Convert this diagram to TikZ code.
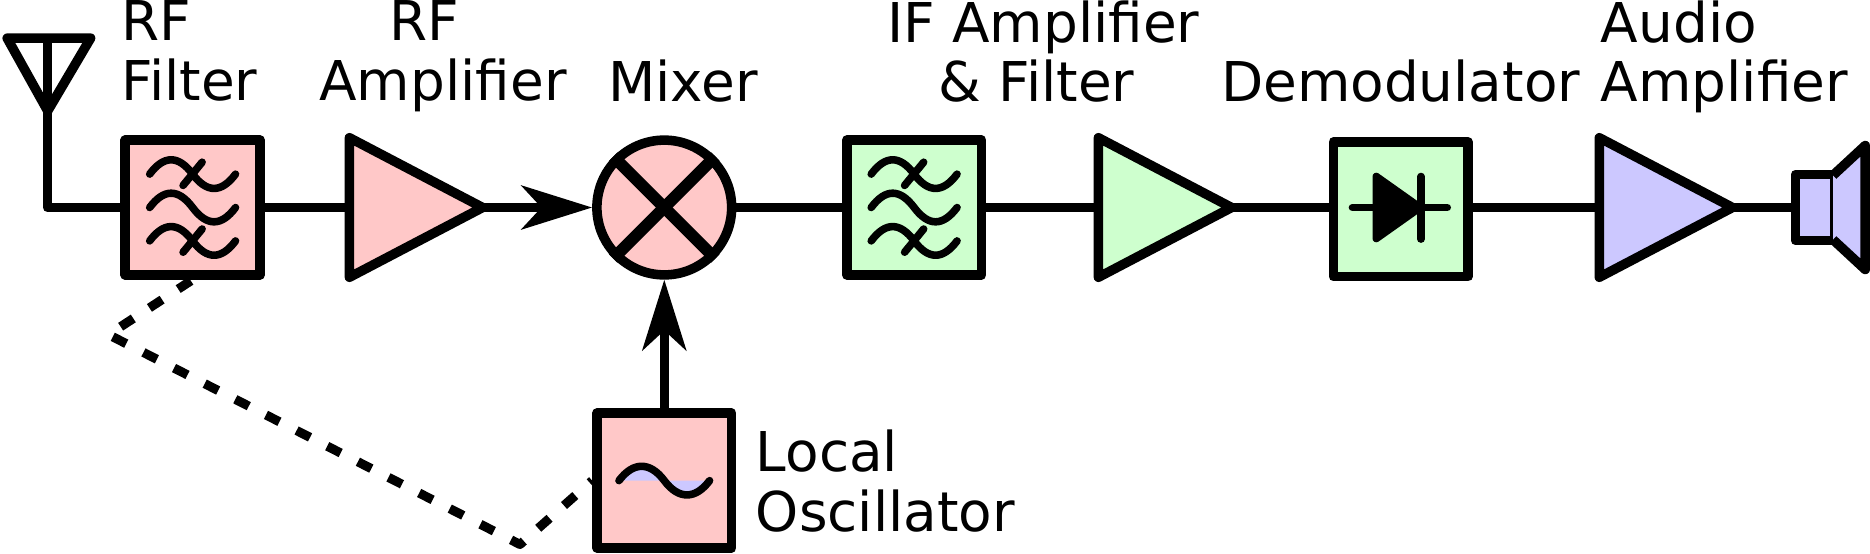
\documentclass[tikz,border=0pt]{standalone}
\usepackage{fontspec}
\setmainfont{DejaVu Sans}
\usetikzlibrary{arrows.meta}
\usetikzlibrary{shapes.geometric}
\definecolor{rfpink}{HTML}{FFC8C8}
\definecolor{ifgreen}{HTML}{CEFFCE}
\definecolor{afviolet}{HTML}{CCC8FF}
\tikzset{
  stagebox/.style={draw,rectangle,line width=4.8pt,minimum width=67.8pt,minimum height=67.8pt,inner sep=0pt},
  amptri/.style={draw,isosceles triangle,isosceles triangle stretches,line width=4.8pt,minimum width=70.2pt,minimum height=67pt,inner sep=0pt,outer sep=0pt,anchor=west},
  link/.style={line width=4.8pt},
  glyph/.style={line width=3.8pt,line cap=round},
  captext/.style={font=\fontsize{27.6pt}{30pt}\selectfont,align=left,inner sep=0pt,anchor=north west},
  filterwaves/.pic={
    \foreach \yy in {-28,0,28}
      \draw[glyph] (-36,\yy) .. controls (-24,\yy-16) and (-12,\yy-16) .. (0,\yy) .. controls (12,\yy+16) and (24,\yy+16) .. (36,\yy);
    \draw[glyph] (-8,-18.5) -- (8,-38);
    \draw[glyph] (-8,37.5) -- (8,18);
  }
}
\begin{document}
\begin{tikzpicture}[line cap=butt,line join=round,x=0.6pt,y=-0.6pt,>={Stealth[length=35.5pt,width=22pt,inset=10pt]}]
\useasboundingbox (0,0) rectangle (1568,463.7);
\coordinate (feed) at (40,174);
\coordinate (kinka) at (91,280.6);
\coordinate (kinkb) at (436,456.5);
\node (rffilter) [stagebox,fill=rfpink] at (161.5,174) {};
\node (rfamp) [amptri,fill=rfpink] at (293,174) {};
\node (mixer) [draw,circle,line width=4.8pt,fill=rfpink,minimum size=67.8pt,inner sep=0pt] at (557,174) {};
\node (iffilter) [stagebox,fill=ifgreen] at (766.5,174) {};
\node (ifamp) [amptri,fill=ifgreen] at (921,174) {};
\node (demod) [stagebox,fill=ifgreen] at (1174.5,175.5) {};
\node (afamp) [amptri,fill=afviolet] at (1341,174) {};
\node (speaker) [rectangle,fill=afviolet,minimum width=18.3pt,minimum height=33.3pt,inner sep=0pt,outer sep=0pt,anchor=west] at (1505.5,174) {};
\node (lo) [stagebox,fill=rfpink] at (557,403) {};
\draw[link] (6,32)-- (76,32)-- (40,93)-- cycle;
\draw[link] (40,32)-- (feed)-- (rffilter.west);
\draw[link] (rffilter.east)-- (rfamp.west);
\draw[link,->] (rfamp.apex)-- (mixer.west);
\draw[link] (mixer.east)-- (iffilter.west);
\draw[link] (iffilter.east)-- (ifamp.west);
\draw[link] (ifamp.apex)-- (ifamp.apex -| demod.west);
\draw[link] (afamp.apex -| demod.east)-- (afamp.west);
\draw[link] (afamp.apex)-- (speaker.west);
\draw[link,->] (lo.north)-- (mixer.south);
\draw[line width=4.6pt,dash pattern=on 7.6pt off 9.7pt,dash phase=16.25pt] (rffilter.south)-- (kinka)-- (kinkb)-- (lo.west);
\draw[line width=6pt,line cap=butt] (mixer.45)-- (mixer.225);
\draw[line width=6pt,line cap=butt] (mixer.135)-- (mixer.-45);
\pic at (rffilter) {filterwaves};
\pic at (iffilter) {filterwaves};
\draw[glyph,fill=black] (1154,148)-- (1190.7,174)-- (1154,200)-- cycle;
\draw[glyph] (1134,174)-- (1213.5,174);
\draw[glyph] (1191.5,148)-- (1191.5,200.5);
\draw[glyph,fill=afviolet] (519,403) .. controls (531,387) and (545,387) .. (557,403) .. controls (569,419) and (583,419) .. (595,403);
\draw[link] (speaker.north east)-- (speaker.north west)-- (speaker.south west)-- (speaker.south east);
\filldraw[link,fill=afviolet] (1537,147)-- (1564,122)-- (1564,226)-- (1537,201);
\draw[line width=1.6pt] (speaker.north east)-- (speaker.south east);
\node (capa) [captext] at (101.5,0) {RF\\Filter};
\node (capb) [captext] at (267.5,0) {\hspace*{35.4pt}RF\\Amplifier};
\node (capc) [captext] at (509.5,50) {Mixer};
\node (capd) [captext] at (743.5,0) {IF Amplifier\\\hspace*{25.8pt}\& Filter};
\node (cape) [captext] at (1023.5,50) {Demodulator};
\node (capf) [captext] at (1342,0) {Audio\\Amplifier};
\node (capg) [captext] at (633.5,360) {Local\\Oscillator};
\end{tikzpicture}
\end{document}
